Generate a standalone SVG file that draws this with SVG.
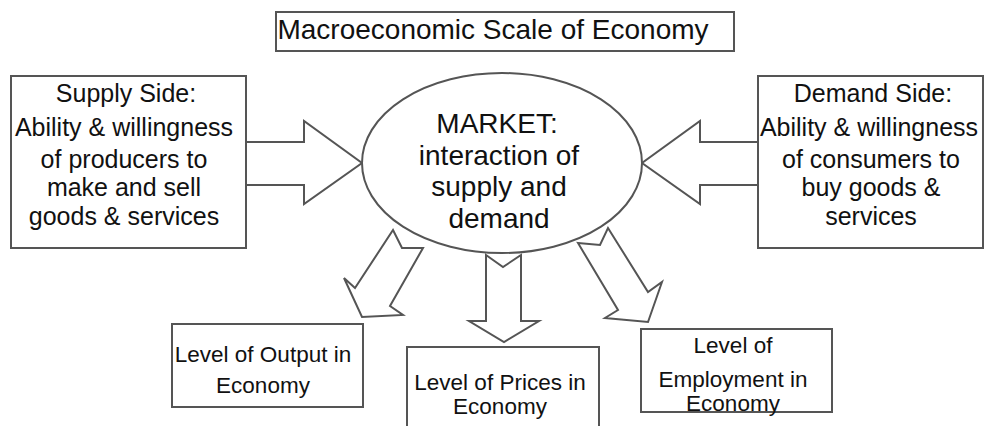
<svg xmlns="http://www.w3.org/2000/svg" width="984" height="426" viewBox="0 0 984 426">
<style>
.box{fill:#fff;stroke:#555;stroke-width:2}
.arr{fill:#fff;stroke:#555;stroke-width:2;stroke-linejoin:miter}
text{font-family:"Liberation Sans",Arial,sans-serif;fill:#111;text-anchor:middle}
.t25{font-size:25px}
.t28{font-size:28px}
.t22{font-size:22.5px}
</style>
<rect width="984" height="426" fill="#fff"/>
<g id="connectors">
<polygon class="arr" points="246,142 304,142 304,121 362,163 304,204 304,185 246,185"/>
<polygon class="arr" points="758,142 700,142 700,121 642,163 700,204 700,185 758,185"/>
<polygon class="arr" points="393,230 402,248 423,248 390,306 403,315 362,317 344,278 355,288"/>
<polygon class="arr" points="486,255 503,267 521,255 521,321 539,321 504,342 469,321 486,321"/>
<polygon class="arr" points="578,243 600,245 608,228 648,292 662,282 648,322 605,318 618,310"/>
</g>
<g id="title">
<rect class="box" x="276" y="12" width="458" height="39"/>
<text class="t28" x="493" y="39">Macroeconomic Scale of Economy</text>
</g>
<g id="supply">
<rect class="box" x="11" y="76" width="235" height="172"/>
<text class="t25" x="126" y="102">Supply Side:</text>
<text class="t25" x="124" y="136">Ability &amp; willingness</text>
<text class="t25" x="124" y="168">of producers to</text>
<text class="t25" x="124" y="196">make and sell</text>
<text class="t25" x="124" y="225">goods &amp; services</text>
</g>
<g id="demand">
<rect class="box" x="758" y="76" width="225" height="172"/>
<text class="t25" x="873" y="102">Demand Side:</text>
<text class="t25" x="869" y="136">Ability &amp; willingness</text>
<text class="t25" x="871" y="168">of consumers to</text>
<text class="t25" x="871" y="196">buy goods &amp;</text>
<text class="t25" x="871" y="225">services</text>
</g>
<g id="market">
<ellipse class="box" cx="502" cy="163" rx="140" ry="90"/>
<text class="t28" x="497" y="133">MARKET:</text>
<text class="t28" x="499" y="165">interaction of</text>
<text class="t28" x="499" y="196">supply and</text>
<text class="t28" x="499" y="228">demand</text>
</g>
<g id="output">
<rect class="box" x="172" y="324" width="191" height="83"/>
<text class="t22" x="263" y="362">Level of Output in</text>
<text class="t22" x="263" y="393">Economy</text>
</g>
<g id="prices">
<rect class="box" x="407" y="347" width="192" height="90"/>
<text class="t22" x="500" y="390">Level of Prices in</text>
<text class="t22" x="500" y="414">Economy</text>
</g>
<g id="employment">
<rect class="box" x="641" y="329" width="191" height="83"/>
<text class="t22" x="733" y="353">Level of</text>
<text class="t22" x="733" y="387">Employment in</text>
<text class="t22" x="733" y="411">Economy</text>
</g>
</svg>
